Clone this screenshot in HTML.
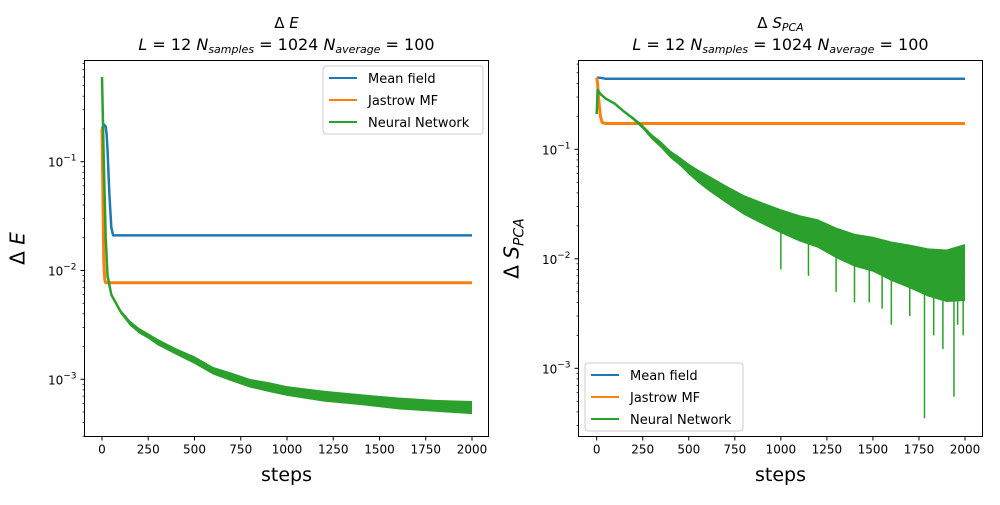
<!DOCTYPE html>
<html><head><meta charset="utf-8"><style>
body{margin:0;background:#fff;font-family:"Liberation Sans","DejaVu Sans",sans-serif}
svg text{font-family:"DejaVu Sans","Liberation Sans",sans-serif}
</style></head><body>
<svg id="fig" width="1000" height="500" viewBox="0 0 1000 500" xmlns="http://www.w3.org/2000/svg"></svg>
<script>
// ---- data ----
const xTicks=[0,250,500,750,1000,1250,1500,1750,2000];
const L_mfSteps=[0,10,20,25,30,40,50,60,80,200,500,1000,1500,2000];
const L_mfVals=[0.2,0.22,0.21,0.18,0.13,0.05,0.025,0.021,0.021,0.021,0.021,0.021,0.021,0.021];
const L_jaSteps=[0,5,10,15,20,40,500,1000,1500,2000];
const L_jaVals=[0.2,0.05,0.012,0.0082,0.0077,0.0077,0.0077,0.0077,0.0077,0.0077];
const L_nnSteps=[0,10,20,30,50,100,150,200,250,300,400,500,600,700,800,900,1000,1200,1400,1600,1800,2000];
const L_nnVals=[0.6,0.1,0.02,0.009,0.006,0.0042,0.0033,0.0028,0.0025,0.0022,0.0018,0.0015,0.0012,0.00105,0.00092,0.00085,0.00078,0.0007,0.00065,0.0006,0.00057,0.00055];
const L_nnBand=[0,0,0,0,0,0.02,0.025,0.025,0.025,0.03,0.03,0.035,0.035,0.04,0.04,0.045,0.045,0.05,0.05,0.055,0.055,0.06];
const R_mfSteps=[0,20,50,500,1000,1500,2000];
const R_mfVals=[0.45,0.45,0.44,0.44,0.44,0.44,0.44];
const R_jaSteps=[0,5,10,20,30,50,500,1000,1500,2000];
const R_jaVals=[0.45,0.4,0.3,0.2,0.175,0.172,0.172,0.172,0.172,0.172];
const R_nnSteps=[0,5,20,50,100,150,200,250,300,350,400,450,500,550,600,700,800,900,1000,1100,1200,1300,1400,1500,1600,1700,1800,1900,2000];
const R_nnVals=[0.21,0.35,0.32,0.29,0.26,0.22,0.19,0.16,0.13,0.11,0.09,0.078,0.066,0.057,0.05,0.039,0.031,0.026,0.022,0.019,0.017,0.014,0.012,0.011,0.0095,0.0085,0.0075,0.007,0.0075];
const R_nnBand=[0,0,0,0,0,0.01,0.015,0.02,0.025,0.03,0.035,0.04,0.05,0.06,0.07,0.08,0.09,0.1,0.11,0.12,0.13,0.14,0.15,0.16,0.18,0.2,0.22,0.24,0.26];
const R_spikeSteps=[1000,1150,1300,1400,1480,1550,1600,1700,1780,1830,1880,1940,1960,1990];
const R_spikeVals=[0.008,0.007,0.005,0.004,0.004,0.0035,0.0025,0.003,0.00035,0.002,0.0015,0.00055,0.0025,0.002];
const legendNames=["Mean field","Jastrow MF","Neural Network"];
const colors=["#1f77b4","#ff7f0e","#2ca02c"];

const NS="http://www.w3.org/2000/svg";
const svg=document.getElementById('fig');
function mk(tag,attrs,parent){const e=document.createElementNS(NS,tag);for(const k in attrs)e.setAttribute(k,attrs[k]);(parent||svg).appendChild(e);return e;}

function panel(p){
  const g=mk('g',{});
  
  
  const X=s=>p.x0+(s/2000)*(p.x2000-p.x0);
  const Y=v=>p.yDec1-(Math.log10(v)+1)*p.dec;
  function line(steps,vals,c,w,nm){
    const d=steps.map((s,i)=>(i?'L':'M')+X(s).toFixed(1)+' '+Y(vals[i]).toFixed(1)).join(' ');
    const e=mk('path',{d:d,fill:'none',stroke:c,'stroke-width':w,'stroke-linejoin':'round'},g);
    
    
  }
  function band(steps,vals,bw,c,nm){
    const up=steps.map((s,i)=>X(s).toFixed(1)+','+Y(vals[i]*Math.pow(10,bw[i])).toFixed(1));
    const lo=steps.map((s,i)=>X(s).toFixed(1)+','+Y(vals[i]/Math.pow(10,bw[i])).toFixed(1)).reverse();
    const e=mk('polygon',{points:up.concat(lo).join(' '),fill:c},g);
    
    
  }
  line(p.mfS,p.mfV,colors[0],2.5,'mean-field-line');
  line(p.jaS,p.jaV,colors[1],3,'jastrow-line');
  band(p.nnS,p.nnV,p.nnB,colors[2],'neural-network-band');
  line(p.nnS,p.nnV,colors[2],2.5,'neural-network-line');
  if(p.spS){p.spS.forEach((s,i)=>{const e=mk('line',{x1:X(s),x2:X(s),y1:Y(p.nnV[p.nnS.findIndex(t=>t>=s)]),y2:Y(p.spV[i]),stroke:colors[2],'stroke-width':1.5},g);
    
    });}
  const fr=mk('rect',{x:p.left,y:p.top,width:p.right-p.left,height:p.bottom-p.top,fill:'none',stroke:'#000','stroke-width':1},g);
  
  
  xTicks.forEach(t=>{mk('line',{x1:X(t),x2:X(t),y1:p.bottom,y2:p.bottom+4,stroke:'#000'},g);
    const tx=mk('text',{x:X(t),y:p.bottom+17,'font-size':12,'text-anchor':'middle'},g);tx.textContent=t;
    
    });
  for(let d=-4;d<=0;d++){for(let m=1;m<10;m++){const v=m*Math.pow(10,d);const y=Y(v);
    if(y<p.top-0.5||y>p.bottom+0.5)continue;
    mk('line',{x1:p.left-(m==1?4:2),x2:p.left,y1:y,y2:y,stroke:'#000','stroke-width':m==1?1:0.7},g);
    if(m==1){const tx=mk('text',{x:p.left-8,y:y+5,'font-size':12,'text-anchor':'end'},g);
      tx.innerHTML='10<tspan dy="-6" font-size="9">−'+(-d)+'</tspan>';
      
      }}}
  const xl=mk('text',{x:(p.left+p.right)/2,y:481,'font-size':19,'text-anchor':'middle'},g);xl.textContent='steps';
  
  
  const yl=mk('text',{transform:`translate(${p.left-60},${(p.top+p.bottom)/2}) rotate(-90)`,'font-size':20,'text-anchor':'middle'},g);yl.innerHTML=p.ylab;
  
  
  const t1=mk('text',{x:(p.left+p.right)/2,y:28,'font-size':15,'text-anchor':'middle'},g);t1.innerHTML=p.t1;
  
  
  const t2=mk('text',{x:(p.left+p.right)/2,y:50,'font-size':16,'text-anchor':'middle'},g);t2.innerHTML=p.t2;
  
  
  const lg=mk('g',{},g);
  
  
  mk('rect',{x:p.lx,y:p.ly,width:p.lw,height:68,rx:3,fill:'#fff','fill-opacity':0.8,stroke:'#ccc'},lg);
  legendNames.forEach((n,i)=>{const yy=p.ly+12+i*22;
    mk('line',{x1:p.lx+6,x2:p.lx+34,y1:yy,y2:yy,stroke:colors[i],'stroke-width':2},lg);
    const tx=mk('text',{x:p.lx+45,y:yy+5,'font-size':13},lg);tx.textContent=n;
    
    });
}
const sub='<tspan font-style="italic">L</tspan> = 12 <tspan font-style="italic">N</tspan><tspan font-size="11" dy="3" font-style="italic">samples</tspan><tspan dy="-3"> = 1024 </tspan><tspan font-style="italic">N</tspan><tspan font-size="11" dy="3" font-style="italic">average</tspan><tspan dy="-3"> = 100</tspan>';
panel({name:'energy-panel',left:84.5,right:488.5,top:60.5,bottom:436.5,x0:102,x2000:472,yDec1:161.7,dec:108.8,
  mfS:L_mfSteps,mfV:L_mfVals,jaS:L_jaSteps,jaV:L_jaVals,nnS:L_nnSteps,nnV:L_nnVals,nnB:L_nnBand,
  ylab:'Δ <tspan font-style="italic">E</tspan>',t1:'Δ <tspan font-style="italic">E</tspan>',t2:sub,lx:323,ly:66,lw:160});
panel({name:'entropy-panel',left:578.5,right:982.5,top:60.5,bottom:436.5,x0:596.7,x2000:965,yDec1:149.3,dec:109.5,
  mfS:R_mfSteps,mfV:R_mfVals,jaS:R_jaSteps,jaV:R_jaVals,nnS:R_nnSteps,nnV:R_nnVals,nnB:R_nnBand,spS:R_spikeSteps,spV:R_spikeVals,
  ylab:'Δ <tspan font-style="italic">S</tspan><tspan font-size="14" dy="5" font-style="italic">PCA</tspan>',
  t1:'Δ <tspan font-style="italic">S</tspan><tspan font-size="11" dy="3" font-style="italic">PCA</tspan>',t2:sub,lx:585,ly:363,lw:158});
</script>
</body></html>
